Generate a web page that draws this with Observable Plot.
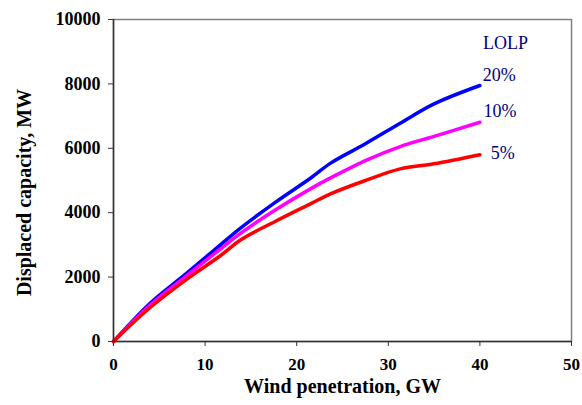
<!DOCTYPE html>
<html>
<head>
<meta charset="utf-8">
<script src="https://cdn.jsdelivr.net/npm/d3@7"></script>
<script src="https://cdn.jsdelivr.net/npm/@observablehq/plot@0.6"></script>
<style>
  html, body { margin: 0; padding: 0; background: #fff; }
  svg { display: block; }
</style>
</head>
<body>
<div id="chart"></div>
<script>
const windGW = [0, 4, 7.9, 11.7, 13.9, 17.7, 21.5, 23.7, 27.5, 31.3, 35, 40];
const lolp20 = [0, 1190, 2100, 3010, 3530, 4330, 5070, 5540, 6140, 6780, 7380, 7950];
const lolp10 = [0, 1130, 2020, 2880, 3365, 4090, 4740, 5080, 5620, 6055, 6370, 6810];
const lolp5  = [0, 1055, 1915, 2670, 3160, 3735, 4275, 4585, 5000, 5360, 5518, 5800];
const seriesNames = ["20%", "10%", "5%"];
const seriesColors = ["#0000ff", "#ff00ff", "#ff0000"];
const xTicks = [0, 10, 20, 30, 40, 50];
const yTicks = [0, 2000, 4000, 6000, 8000, 10000];
const xTitle = "Wind penetration, GW";
const yTitle = "Displaced capacity, MW";
const annotText = ["LOLP", "20%", "10%", "5%"];
const annotX = [42.8, 42.1, 42.2, 42.5];
const annotY = [9264, 8260, 7150, 5850];

const seriesValues = [lolp20, lolp10, lolp5];
const rows = [];
seriesNames.forEach((s, i) => windGW.forEach((x, j) => rows.push({series: s, x, y: seriesValues[i][j]})));
const annots = annotText.map((t, i) => ({t, x: annotX[i], y: annotY[i]}));

const serif = "'Liberation Serif', 'Times New Roman', serif";

const chart = Plot.plot({
  width: 582,
  height: 405,
  marginLeft: 113,
  marginRight: 11,
  marginTop: 19,
  marginBottom: 64,
  style: {fontFamily: serif, background: "#fff"},
  x: {domain: [0, 50]},
  y: {domain: [0, 10000]},
  color: {domain: seriesNames, range: seriesColors},
  marks: [
    Plot.frame({stroke: "#808080", strokeWidth: 1.5}),
    Plot.line(rows, {x: "x", y: "y", z: "series", stroke: "series", strokeWidth: 3.5, curve: "catmull-rom"}),
    Plot.ruleX([0], {stroke: "#333", strokeWidth: 1.5}),
    Plot.ruleY([0], {stroke: "#333", strokeWidth: 1.5}),
    Plot.axisX(xTicks, {tickSize: 5, tickPadding: 11, stroke: "#333", fontSize: 17, fontWeight: "bold", fill: "#000",
      tickFormat: d => String(d), label: null}),
    Plot.axisY(yTicks, {tickSize: 5, tickPadding: 8, stroke: "#333", fontSize: 18, fontWeight: "bold", fill: "#000",
      tickFormat: d => String(d), label: null}),
    Plot.text([xTitle], {frameAnchor: "bottom", dy: 51, text: d => d, fontSize: 20, fontWeight: "bold", fill: "#000", fontFamily: serif}),
    Plot.text([yTitle], {frameAnchor: "left", textAnchor: "middle", dx: -89, dy: 12, rotate: -90, text: d => d, fontSize: 20, fontWeight: "bold", fill: "#000", fontFamily: serif}),
    Plot.text(annots, {x: "x", y: "y", text: "t", fill: "#000080", fontSize: 18, fontFamily: serif})
  ]
});
document.getElementById("chart").appendChild(chart);
</script>
</body>
</html>
